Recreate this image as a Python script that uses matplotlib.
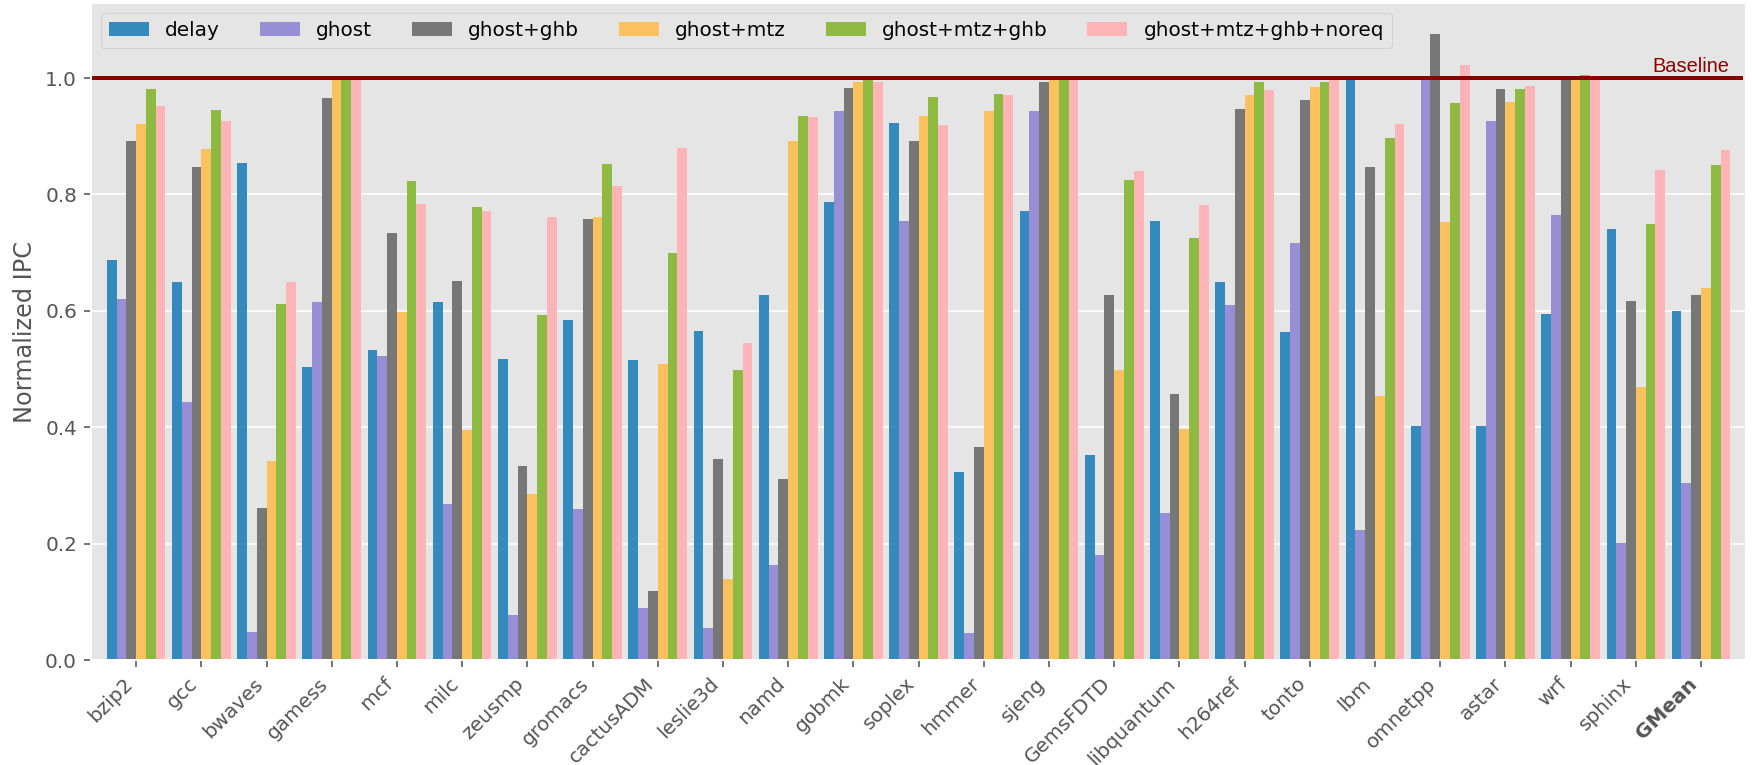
import numpy as np
import matplotlib
matplotlib.use("Agg")
from matplotlib import pyplot as plt
from matplotlib import transforms

benchmarks = ["bzip2", "gcc", "bwaves", "gamess", "mcf", "milc", "zeusmp", "gromacs",
              "cactusADM", "leslie3d", "namd", "gobmk", "soplex", "hmmer", "sjeng",
              "GemsFDTD", "libquantum", "h264ref", "tonto", "lbm", "omnetpp", "astar",
              "wrf", "sphinx", "GMean"]

delay = [0.688, 0.649, 0.854, 0.504, 0.533, 0.615, 0.517, 0.584, 0.516, 0.565, 0.628,
         0.787, 0.923, 0.324, 0.772, 0.353, 0.755, 0.649, 0.564, 1.000, 0.403, 0.403,
         0.594, 0.740, 0.599]
ghost = [0.620, 0.443, 0.048, 0.615, 0.522, 0.268, 0.077, 0.259, 0.089, 0.056, 0.164,
         0.943, 0.755, 0.046, 0.943, 0.180, 0.252, 0.610, 0.717, 0.223, 1.000, 0.926,
         0.765, 0.202, 0.304]
ghost_ghb = [0.892, 0.847, 0.261, 0.965, 0.734, 0.652, 0.333, 0.758, 0.118, 0.345, 0.311,
             0.982, 0.892, 0.366, 0.993, 0.627, 0.457, 0.946, 0.963, 0.847, 1.075, 0.981,
             1.000, 0.617, 0.627]
ghost_mtz = [0.921, 0.878, 0.342, 0.999, 0.598, 0.395, 0.285, 0.762, 0.509, 0.139, 0.892,
             0.993, 0.934, 0.943, 0.998, 0.499, 0.397, 0.970, 0.984, 0.453, 0.752, 0.958,
             0.996, 0.469, 0.640]
ghost_mtz_ghb = [0.981, 0.945, 0.611, 1.000, 0.823, 0.779, 0.593, 0.852, 0.699, 0.499, 0.934,
                 0.996, 0.967, 0.972, 1.000, 0.825, 0.726, 0.993, 0.993, 0.897, 0.957, 0.981,
                 1.005, 0.750, 0.851]
ghost_mtz_ghb_noreq = [0.952, 0.926, 0.649, 1.000, 0.784, 0.772, 0.762, 0.815, 0.880, 0.545, 0.933,
                       0.993, 0.919, 0.970, 0.998, 0.840, 0.782, 0.979, 0.998, 0.921, 1.022, 0.986,
                       0.999, 0.842, 0.876]

series = [delay, ghost, ghost_ghb, ghost_mtz, ghost_mtz_ghb, ghost_mtz_ghb_noreq]
labels = ["delay", "ghost", "ghost+ghb", "ghost+mtz", "ghost+mtz+ghb", "ghost+mtz+ghb+noreq"]
colors = ["#348ABD", "#988ED5", "#777777", "#FBC15E", "#8EBA42", "#FFB5B8"]

plt.style.use("ggplot")
plt.rcParams["font.family"] = ["DejaVu Sans"]

fig, ax = plt.subplots(figsize=(1752 / 144, 765 / 144), dpi=144)
fig.subplots_adjust(left=0.052, right=0.9966, bottom=0.137, top=0.996)

x = np.arange(len(benchmarks))
width = 0.15
for i, (vals, lab, col) in enumerate(zip(series, labels, colors)):
    ax.bar(x + (i - 2.5) * width, vals, width, label=lab, color=col, linewidth=0)

# baseline reference line
ax.axhline(1.0, xmax=0.997, color="darkred", linewidth=2)
trans = transforms.blended_transform_factory(ax.transAxes, ax.transData)
ax.text(0.99, 1.004, "Baseline", color="darkred", ha="right", va="bottom",
        fontsize=10, family=["Liberation Sans"], transform=trans)

ax.set_xlim(-0.69, len(benchmarks) - 0.31)
ax.xaxis.grid(False)
ax.set_xticks(x)
ax.set_xticklabels(benchmarks, rotation=45, ha="right")
ax.get_xticklabels()[-1].set_fontweight("bold")
ax.set_ylabel("Normalized IPC")
ax.legend(loc="upper left", ncol=6)

plt.savefig("out.png", dpi=144)
